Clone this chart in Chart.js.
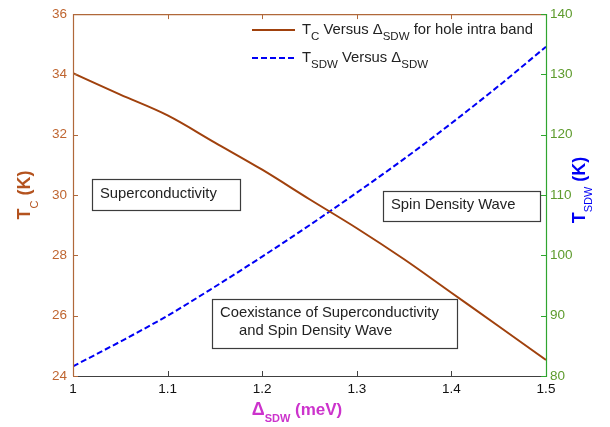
<!DOCTYPE html>
<html>
<head>
<meta charset="utf-8">
<script src="https://cdn.jsdelivr.net/npm/chart.js@4.4.1/dist/chart.umd.min.js"></script>
<style>
  html, body { margin: 0; padding: 0; background: #fff; }
  #wrap { width: 610px; height: 427px; }
</style>
</head>
<body>
<div id="wrap"><canvas id="chart" width="610" height="427"></canvas></div>
<script>
// data
var delta = [1.0, 1.05, 1.1, 1.15, 1.2, 1.25, 1.3, 1.35, 1.4, 1.45, 1.5];
var tcValues = [34.04, 33.33, 32.64, 31.74, 30.84, 29.86, 28.9, 27.87, 26.76, 25.65, 24.53];
var tsdwValues = [81.6, 85.7, 90.0, 94.8, 99.8, 105.0, 110.4, 116.0, 121.9, 128.1, 134.6];

var xTicks = [1, 1.1, 1.2, 1.3, 1.4, 1.5];
var leftTicks = [24, 26, 28, 30, 32, 34, 36];
var rightTicks = [80, 90, 100, 110, 120, 130, 140];

var FONT = "Arial, 'Liberation Sans', sans-serif";
var brown = "#A0410D";
var blue = "#0000F5";

// text with subscripts: parts = [text, font, dy]
function rich(ctx, x, y, parts, align) {
    var w = 0;
    parts.forEach(function (p) { ctx.font = p[1]; w += ctx.measureText(p[0]).width; });
    var cx = align === "center" ? x - w / 2 : x;
    parts.forEach(function (p) {
        ctx.font = p[1];
        ctx.fillText(p[0], cx, y + (p[2] || 0));
        cx += ctx.measureText(p[0]).width;
    });
}

function box(ctx, x1, y1, x2, y2, lines) {
    ctx.fillStyle = "#fff";
    ctx.fillRect(x1, y1, x2 - x1, y2 - y1);
    ctx.strokeStyle = "#3c3c3c";
    ctx.lineWidth = 1.2;
    ctx.strokeRect(x1 + 0.5, y1 + 0.5, x2 - x1, y2 - y1);
    ctx.fillStyle = "#222";
    ctx.font = "14.8px " + FONT;
    lines.forEach(function (l) { ctx.fillText(l[0], l[1], l[2]); });
}

var decor = {
    id: "decor",
    afterDraw: function (chart) {
        var ctx = chart.ctx;
        var a = chart.chartArea;
        var sx = chart.scales.x, sy = chart.scales.y, sy2 = chart.scales.y2;
        ctx.save();
        ctx.textBaseline = "alphabetic";
        ctx.textAlign = "left";

        // frame
        ctx.lineWidth = 1.2;
        ctx.strokeStyle = "#B0683A";
        ctx.beginPath();
        ctx.moveTo(a.left + 0.5, a.bottom); ctx.lineTo(a.left + 0.5, a.top + 0.5); ctx.lineTo(a.right, a.top + 0.5);
        ctx.stroke();
        ctx.strokeStyle = "#404040";
        ctx.beginPath(); ctx.moveTo(a.left, a.bottom + 0.5); ctx.lineTo(a.right, a.bottom + 0.5); ctx.stroke();
        ctx.strokeStyle = "#2FA52F";
        ctx.beginPath(); ctx.moveTo(a.right + 0.5, a.top); ctx.lineTo(a.right + 0.5, a.bottom + 1); ctx.stroke();

        // inward ticks
        ctx.lineWidth = 1;
        xTicks.slice(1, -1).forEach(function (v) {
            var px = Math.round(sx.getPixelForValue(v)) + 0.5;
            ctx.strokeStyle = "#404040";
            ctx.beginPath(); ctx.moveTo(px, a.bottom); ctx.lineTo(px, a.bottom - 5); ctx.stroke();
            ctx.strokeStyle = "#B0683A";
            ctx.beginPath(); ctx.moveTo(px, a.top); ctx.lineTo(px, a.top + 5); ctx.stroke();
        });
        leftTicks.forEach(function (v) {
            var py = Math.round(sy.getPixelForValue(v)) + 0.5;
            ctx.strokeStyle = "#B0683A";
            ctx.beginPath(); ctx.moveTo(a.left, py); ctx.lineTo(a.left + 5, py); ctx.stroke();
        });
        rightTicks.forEach(function (v) {
            var py = Math.round(sy2.getPixelForValue(v)) + 0.5;
            ctx.strokeStyle = "#2FA52F";
            ctx.beginPath(); ctx.moveTo(a.right, py); ctx.lineTo(a.right - 5, py); ctx.stroke();
        });

        // axis titles
        ctx.fillStyle = "#B4531F";
        ctx.save();
        ctx.translate(24, (a.top + a.bottom) / 2);
        ctx.rotate(-Math.PI / 2);
        rich(ctx, 0, 6, [["T", "bold 18px " + FONT, 0], ["C", "11px " + FONT, 8], [" (K)", "bold 18px " + FONT, 0]], "center");
        ctx.restore();

        ctx.fillStyle = blue;
        ctx.save();
        ctx.translate(579, 190);
        ctx.rotate(-Math.PI / 2);
        rich(ctx, 0, 6, [["T", "bold 18px " + FONT, 0], ["SDW", "11px " + FONT, 7], [" (K)", "bold 18px " + FONT, 0]], "center");
        ctx.restore();

        ctx.fillStyle = "#CC33CC";
        rich(ctx, 297, 415, [["\u0394", "bold 18px " + FONT, 0], ["SDW", "bold 11px " + FONT, 7], [" (meV)", "bold 17px " + FONT, 0]], "center");

        // legend
        ctx.lineWidth = 2;
        ctx.strokeStyle = brown;
        ctx.beginPath(); ctx.moveTo(252, 30); ctx.lineTo(295, 30); ctx.stroke();
        ctx.strokeStyle = blue;
        ctx.setLineDash([6, 3]);
        ctx.beginPath(); ctx.moveTo(252, 58); ctx.lineTo(295, 58); ctx.stroke();
        ctx.setLineDash([]);
        ctx.fillStyle = "#222";
        var f = "14.8px " + FONT, fs = "11.5px " + FONT;
        rich(ctx, 302, 34, [["T", f, 0], ["C", fs, 6], [" Versus \u0394", f, 0], ["SDW", fs, 6], [" for hole intra band", f, 0]]);
        rich(ctx, 302, 62, [["T", f, 0], ["SDW", fs, 6], [" Versus \u0394", f, 0], ["SDW", fs, 6]]);

        // region labels
        box(ctx, 92, 179, 240, 210, [["Superconductivity", 100, 198]]);
        box(ctx, 383, 191, 540, 221, [["Spin Density Wave", 391, 209]]);
        box(ctx, 212, 299, 457, 348, [["Coexistance of Superconductivity", 220, 317], ["and Spin Density Wave", 239, 335]]);

        ctx.restore();
    }
};

new Chart(document.getElementById("chart"), {
    type: "line",
    data: {
        labels: delta,
        datasets: [{
            label: "TC Versus \u0394SDW for hole intra band",
            data: delta.map(function (d, i) { return { x: d, y: tcValues[i] }; }),
            borderColor: brown,
            borderWidth: 2,
            pointRadius: 0,
            cubicInterpolationMode: "monotone",
            yAxisID: "y"
        }, {
            label: "TSDW Versus \u0394SDW",
            data: delta.map(function (d, i) { return { x: d, y: tsdwValues[i] }; }),
            borderColor: blue,
            borderWidth: 2,
            borderDash: [6, 3],
            pointRadius: 0,
            cubicInterpolationMode: "monotone",
            yAxisID: "y2"
        }]
    },
    options: {
        responsive: false,
        animation: false,
        layout: { padding: { top: 7, left: 0, right: 0, bottom: 0 } },
        plugins: { legend: { display: false }, tooltip: { enabled: false } },
        scales: {
            x: {
                type: "linear", min: 1, max: 1.5,
                grid: { display: false, drawTicks: false }, border: { display: false },
                afterBuildTicks: function (s) { s.ticks = xTicks.map(function (v) { return { value: v }; }); },
                afterFit: function (s) { s.height = 51; },
                ticks: {
                    padding: 5, color: "#111", maxRotation: 0,
                    font: { family: FONT, size: 13.5 },
                    callback: function (v) { return String(+v.toFixed(1)); }
                }
            },
            y: {
                position: "left", min: 24, max: 36,
                grid: { display: false, drawTicks: false }, border: { display: false },
                afterBuildTicks: function (s) { s.ticks = leftTicks.map(function (v) { return { value: v }; }); },
                afterFit: function (s) { s.width = 73; },
                ticks: { padding: 6, color: "#BF6530", font: { family: FONT, size: 13.5 } }
            },
            y2: {
                position: "right", min: 80, max: 140,
                grid: { display: false, drawTicks: false }, border: { display: false },
                afterBuildTicks: function (s) { s.ticks = rightTicks.map(function (v) { return { value: v }; }); },
                afterFit: function (s) { s.width = 64; },
                ticks: { padding: 4, color: "#5E9B2D", font: { family: FONT, size: 13.5 } }
            }
        }
    },
    plugins: [decor]
});
</script>
</body>
</html>
